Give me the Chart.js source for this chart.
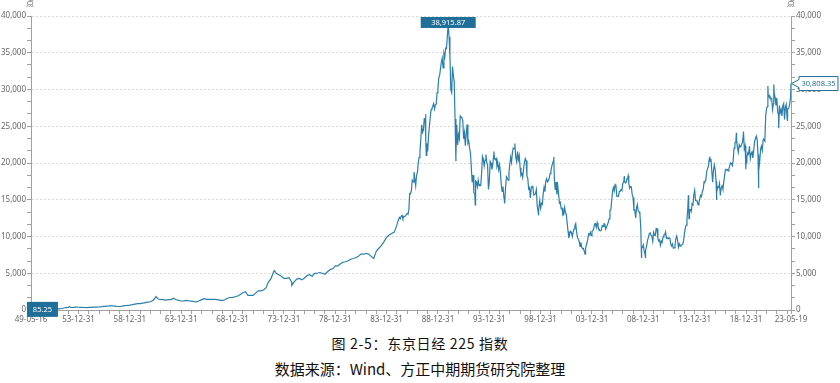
<!DOCTYPE html>
<html><head><meta charset="utf-8">
<script src="https://cdn.jsdelivr.net/npm/chart.js@4"></script>
<style>
html,body{margin:0;padding:0;background:#fff;}
#wrap{position:relative;width:840px;height:383px;overflow:hidden;}
#c{position:absolute;left:0;top:0;}
.cap{position:absolute;left:0;width:840px;text-align:center;font-family:"Noto Sans CJK SC",sans-serif;color:#111;white-space:nowrap;}
</style></head><body>
<div id="wrap">
<canvas id="c"></canvas>
<div class="cap" style="top:333px;font-size:14px;line-height:20px;letter-spacing:0.7px">图 2-5：东京日经 225 指数</div>
<div class="cap" style="top:358px;font-size:15px;line-height:22px">数据来源：Wind、方正中期期货研究院整理</div>
</div>
<script>
// ---------- DATA ----------
const startDates  = ['1949-05-16','1949-06-15','1949-07-06','1949-09-30','1949-12-30'];
const startValues = [176.21, 130, 85.25, 100.2, 109.9];

// quarter-end closes 1950Q1 .. 1984Q4
const quarterlyValues = [
  101, 99, 100, 101,        // 1950
  121, 135, 160, 166,       // 1951
  189, 238, 336, 362,       // 1952
  340, 350, 378, 377,       // 1953
  369, 340, 335, 356,       // 1954
  363, 380, 400, 425,       // 1955
  460, 505, 540, 549,       // 1956
  580, 540, 500, 475,       // 1957
  520, 600, 620, 666,       // 1958
  720, 800, 870, 874,       // 1959
  930, 1000, 1070, 1117,    // 1960
  1300, 1700, 1500, 1432,   // 1961
  1420, 1350, 1400, 1420,   // 1962
  1600, 1400, 1300, 1225,   // 1963
  1250, 1300, 1250, 1216,   // 1964
  1150, 1100, 1250, 1417,   // 1965
  1550, 1450, 1450, 1452,   // 1966
  1450, 1400, 1350, 1283,   // 1967
  1400, 1600, 1700, 1715,   // 1968
  1800, 1900, 2100, 2358,   // 1969
  2500, 2000, 2000, 1987,   // 1970
  2300, 2600, 2600, 2714,   // 1971
  3000, 3800, 4300, 5208,   // 1972
  5000, 4800, 4600, 4306,   // 1973
  4300, 4400, 3800, 3817,   // 1974
  4200, 4300, 4100, 4359,   // 1975
  4700, 4800, 4600, 4991,   // 1976
  5000, 5100, 5000, 4866,   // 1977
  5200, 5500, 5600, 6002,   // 1978
  6000, 6300, 6500, 6569,   // 1979
  6700, 6900, 7000, 7116,   // 1980
  7300, 7600, 7600, 7682,   // 1981
  7600, 7300, 7000, 8017,   // 1982
  8400, 8800, 9300, 9894,   // 1983
  10200, 10400, 10600, 11543 // 1984
];

// month-end closes 1985-01 .. 2023-04
const monthlyValues = [
  11992,12322,12580,12426,12758,12882,12461,12664,12700,12800,12970,13113, // 1985
  13025,13640,15860,15825,16300,17650,17440,18780,17850,16910,18330,18701, // 1986
  20048,20767,21566,23274,25200,24176,24488,26029,26011,23329,22686,21564, // 1987
  23719,24910,26260,27256,27417,27769,28079,27366,27924,28000,29579,30159, // 1988
  31581,31985,32839,33713,34266,32948,34954,34431,35636,35549,37269,38915.87, // 1989
  37189,34591,29980,29584,33131,31940,31036,25978,20984,25194,22454,23849, // 1990
  23293,26409,26292,26111,25790,23291,24120,22336,23916,25222,22688,22984, // 1991
  22023,21339,19346,17390,18348,15952,15910,17555,17399,16767,17685,16925, // 1992
  17023,16953,18591,20919,20552,19590,20380,21027,20106,19703,16408,17417, // 1993
  20229,19997,19112,19725,20974,20644,20449,20629,19564,19990,19076,19723, // 1994
  18650,17054,16140,16807,15437,14517,16678,18117,17913,17655,18744,19868, // 1995
  20813,20125,21407,22041,21956,22531,20693,20167,21556,20466,21020,19361, // 1996
  18330,18557,18003,19151,20069,20605,20331,18229,17888,16459,16636,15259, // 1997
  16628,16832,16527,15641,15671,15831,16379,14108,13406,13565,14884,13842, // 1998
  14500,14368,15837,16702,16112,17530,17862,17437,17605,17943,18558,18934, // 1999
  19540,19960,20337,17974,16332,17411,15727,16861,15747,14539,14649,13786, // 2000
  13844,12884,12999,13934,13262,12969,11861,10714,9775,10366,10697,10543,  // 2001
  9998,10588,11025,11493,11764,10622,9878,9619,9383,8640,9216,8579,        // 2002
  8340,8363,7973,7831,8425,9083,9563,10344,10219,10560,10101,10677,        // 2003
  10784,11042,11715,11762,11236,11859,11326,11082,10824,10771,10899,11489, // 2004
  11388,11741,11669,11009,11277,11584,11900,12414,13574,13607,14872,16111, // 2005
  16650,16205,17060,16906,15467,15505,15457,16141,16128,16399,16274,17226, // 2006
  17383,17604,17288,17400,17876,18138,17249,16569,16786,16737,15681,15308, // 2007
  13592,13603,12526,13850,14339,13481,13377,13073,11260,8577,8512,8860,    // 2008
  7994,7568,8110,8828,9523,9958,10357,10493,10133,10035,9346,10546,        // 2009
  10198,10126,11090,11057,9769,9383,9537,8824,9369,9202,9937,10229,        // 2010
  10238,10624,9755,9850,9694,9816,9833,8955,8700,8988,8435,8455,           // 2011
  8803,9723,10084,9521,8543,9007,8695,8840,8870,8928,9446,10395,           // 2012
  11139,11559,12398,13861,13775,13677,13668,13389,14456,14328,15662,16291, // 2013
  14915,14841,14828,14304,14632,15162,15621,15425,16174,16414,17460,17451, // 2014
  17674,18798,19207,19520,20563,20236,20585,18890,17388,19083,19747,19034, // 2015
  17518,16027,16759,16666,17235,15576,16569,16887,16450,17425,18308,19114, // 2016
  19041,19119,18909,19197,19651,20033,19925,19646,20356,22012,22725,22765, // 2017
  23098,22068,21454,22468,22202,22305,22554,22865,24120,21920,22351,20015, // 2018
  20773,21385,21206,22259,20601,21276,21522,20704,21756,22927,23294,23657, // 2019
  23205,21143,18917,20194,21878,22288,21710,23140,23185,22977,26434,27444, // 2020
  27663,28966,29179,28813,28860,28792,27284,28090,29453,28893,27822,28792, // 2021
  27002,26527,27821,26848,27280,26393,27802,28092,25937,27587,27969,26095, // 2022
  27327,27446,28041,28856                                                  // 2023
];

// intra-period highs / lows
const extraDates  = ['1953-02-04','1961-07-18','1973-01-24','1974-10-09','1987-10-14','1987-11-11',
  '1990-10-01','1992-08-18','1993-09-03','1994-06-13','1995-07-03','1996-06-26','1998-10-09',
  '2000-04-12','2003-04-28','2007-02-26','2007-07-09','2008-10-27','2009-03-10','2013-05-22',
  '2013-06-13','2015-06-24','2016-02-12','2018-01-23','2018-10-02','2018-12-25','2020-03-19',
  '2021-02-16','2021-09-14','2022-03-08','2023-01-04'];
const extraValues = [474, 1829, 5359, 3355, 26646, 21036,
  20222, 14309, 21148, 21552, 14485, 22666, 12879,
  20833, 7607, 18215, 18261, 7162, 7054, 15627,
  12445, 20868, 14952, 24124, 24270, 19155, 16552,
  30467, 30670, 24717, 25717];

const lastDate  = '2023-05-19';
const lastValue = 30808.35;

// axis ticks
const xLabelDates = ['1949-05-16','1953-12-31','1958-12-31','1963-12-31','1968-12-31','1973-12-31',
  '1978-12-31','1983-12-31','1988-12-31','1993-12-31','1998-12-31','2003-12-31','2008-12-31',
  '2013-12-31','2018-12-31','2023-05-19'];
const xTickLabels = ['49-05-16','53-12-31','58-12-31','63-12-31','68-12-31','73-12-31',
  '78-12-31','83-12-31','88-12-31','93-12-31','98-12-31','03-12-31','08-12-31',
  '13-12-31','18-12-31','23-05-19'];
const yMax = 40000, yMajorStep = 5000, yMinorPerMajor = 3;
const unitLabel = '点';

// ---------- BUILD ----------
function toYear(d){
  const [y,m,dd] = d.split('-').map(Number);
  const t = Date.UTC(y,m-1,dd), s = Date.UTC(y,0,1), e = Date.UTC(y+1,0,1);
  return y + (t-s)/(e-s);
}
let pts = [];
startDates.forEach((d,i)=>pts.push({x:toYear(d), y:startValues[i]}));
quarterlyValues.forEach((v,i)=>pts.push({x:1950 + (i+1)/4 - 0.003, y:v}));
monthlyValues.forEach((v,i)=>pts.push({x:1985 + (i+1)/12 - 0.002, y:v}));
extraDates.forEach((d,i)=>pts.push({x:toYear(d), y:extraValues[i]}));
pts.push({x:toYear(lastDate), y:lastValue});
pts.sort((a,b)=>a.x-b.x);

const xMin = toYear(xLabelDates[0]), xMaxV = toYear(xLabelDates[xLabelDates.length-1]);
const labelMap = new Map();
xLabelDates.forEach((d,i)=>labelMap.set(toYear(d).toFixed(5), xTickLabels[i]));
const xTickVals = [xMin];
for (let yr=1949; yr<=2022; yr++) xTickVals.push(toYear(yr+'-12-31'));
xTickVals.push(xMaxV);

const yTickVals = [];
for (let i=0;i<=yMax/yMajorStep*yMinorPerMajor;i++) yTickVals.push(i*yMajorStep/yMinorPerMajor);
const isMajor = v => Math.abs(v/yMajorStep - Math.round(v/yMajorStep)) < 1e-6;

const LINE = '#2a7fab', BOX = '#1f6f99', AXIS = '#a0a0a0', TXT = '#666';
const fmt2 = v => v.toLocaleString('en-US',{minimumFractionDigits:2,maximumFractionDigits:2});

const markPlugin = {
  id:'marks',
  afterDatasetsDraw(chart){
    const {ctx, scales:{x,y}} = chart;
    const data = chart.data.datasets[0].data;
    let maxP = data[0], minP = data[0];
    data.forEach(p=>{ if(p.y>maxP.y) maxP=p; if(p.y<minP.y) minP=p; });
    const lastP = data[data.length-1];
    ctx.save();
    ctx.font = '7.5px "Noto Sans", sans-serif';
    ctx.textAlign = 'center'; ctx.textBaseline = 'middle';
    // max
    let px = x.getPixelForValue(maxP.x), py = y.getPixelForValue(maxP.y);
    ctx.fillStyle = BOX; ctx.fillRect(px-27.5, py-7, 55, 11);
    ctx.fillStyle = '#fff'; ctx.fillText(fmt2(maxP.y), px, py-1.5);
    // min
    px = x.getPixelForValue(minP.x); py = y.getPixelForValue(minP.y);
    ctx.fillStyle = BOX; ctx.fillRect(px-5.5, py-7.5, 31, 15);
    ctx.fillStyle = '#fff'; ctx.fillText(fmt2(minP.y), px-5.5+15.5, py);
    // last
    px = x.getPixelForValue(lastP.x); py = y.getPixelForValue(lastP.y);
    const L = px+8, R = px+47, T = py-7, B = py+7;
    ctx.beginPath();
    ctx.moveTo(px+0.5, py); ctx.lineTo(L, py-4); ctx.lineTo(L, T); ctx.lineTo(R, T);
    ctx.lineTo(R, B); ctx.lineTo(L, B); ctx.lineTo(L, py+4); ctx.closePath();
    ctx.fillStyle = '#fff'; ctx.fill();
    ctx.lineWidth = 1; ctx.strokeStyle = BOX; ctx.stroke();
    ctx.fillStyle = BOX; ctx.fillText(fmt2(lastP.y), (L+R)/2, py);
    // units
    ctx.fillStyle = TXT; ctx.font = '8px "Noto Sans CJK SC", sans-serif';
    ctx.fillText(unitLabel, chart.scales.y.right - 1, 3);
    ctx.fillText(unitLabel, chart.scales.y2.left, 3);
    ctx.restore();
  }
};

const tickFont = {family:'"Noto Sans", sans-serif', size:8};
const cv = document.getElementById('c');
cv.width = 840; cv.height = 330; cv.style.width='840px'; cv.style.height='330px';

new Chart(cv, {
  type:'line',
  data:{datasets:[{data:pts, borderColor:LINE, borderWidth:1.2, pointRadius:0, tension:0, fill:false}]},
  options:{
    responsive:false, animation:false, parsing:true,
    layout:{padding:{top:16,left:0,right:0,bottom:0}},
    plugins:{legend:{display:false}, tooltip:{enabled:false}},
    scales:{
      x:{type:'linear', min:xMin, max:xMaxV,
        afterBuildTicks:s=>{ s.ticks = xTickVals.map(v=>({value:v})); },
        afterFit:s=>{ s.height = 20; },
        ticks:{autoSkip:false, maxRotation:0, minRotation:0, padding:1, color:TXT, font:tickFont,
          callback:v=>labelMap.get(Number(v).toFixed(5)) || ''},
        grid:{drawOnChartArea:false, drawTicks:true, tickLength:4, tickColor:AXIS},
        border:{color:AXIS, width:1}
      },
      y:{type:'linear', position:'left', min:0, max:yMax,
        afterBuildTicks:s=>{ s.ticks = yTickVals.map(v=>({value:v})); },
        afterFit:s=>{ s.width = 31; },
        ticks:{autoSkip:false, padding:1, color:TXT, font:tickFont,
          callback:v=> isMajor(v) ? Math.round(v).toLocaleString('en-US') : ''},
        grid:{color:c=> (c.tick && isMajor(c.tick.value) && c.tick.value>0) ? '#dcdcdc' : 'rgba(0,0,0,0)',
          tickLength:4, tickColor:AXIS, lineWidth:1},
        border:{color:AXIS, width:1, dash:[2,2]}
      },
      y2:{type:'linear', position:'right', min:0, max:yMax,
        afterBuildTicks:s=>{ s.ticks = yTickVals.map(v=>({value:v})); },
        afterFit:s=>{ s.width = 49; },
        ticks:{autoSkip:false, padding:1, color:TXT, font:tickFont,
          callback:v=> isMajor(v) ? Math.round(v).toLocaleString('en-US') : ''},
        grid:{drawOnChartArea:false, tickLength:4, tickColor:AXIS},
        border:{color:AXIS, width:1}
      }
    }
  },
  plugins:[markPlugin]
});
</script>
</body></html>
